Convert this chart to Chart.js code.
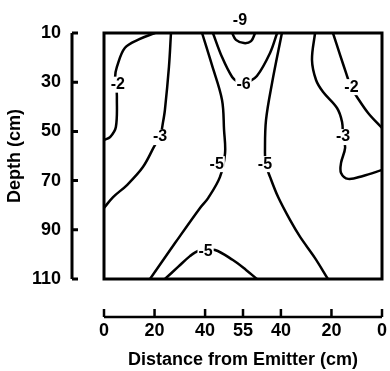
<!DOCTYPE html>
<html>
<head>
<meta charset="utf-8">
<script src="https://cdn.jsdelivr.net/npm/chart.js@4"></script>
<style>
  html, body { margin: 0; padding: 0; background: #fff; }
  #wrap { width: 390px; height: 371px; }
</style>
</head>
<body>
<div id="wrap"><canvas id="contourChart" width="390" height="371"></canvas></div>
<script>
"use strict"
//Axeldata
const xTicks = [0, 20, 40, 55, 70, 90, 110];
const xTickLabels = ['0', '20', '40', '55', '40', '20', '0'];
const yTicks = [10, 30, 50, 70, 90, 110];

//Konturlinjer [avstand, djup]
const leftM2 = [[20.2,10],[14,12.5],[8.3,16],[5.1,23.8],[4.4,27.9],[4.9,32],[5.1,36],[4.7,48.2],[2.4,52.3],[0,53.5]];
const leftM3 = [[26.5,10],[25.7,23.8],[24.1,41.3],[23.3,46.6],[22.2,52.3],[20.2,55.5],[15.4,64.5],[9.1,71.8],[3.6,76.7],[0,81.1]];
const leftM5 = [[38.8,10],[42.7,23],[46.7,37.2],[47.5,49.4],[47.9,58.8],[45.9,68.5],[41.2,77.1],[38,81.1],[28.1,95.4],[18.2,110]];
const rightM5 = [[70.4,10],[66.5,30.3],[64.1,45.4],[63.7,57.6],[64,63.3],[65.7,68.5],[68.9,76.7],[73.6,86],[77.6,92.9],[83.5,101.5],[88.6,110]];
const topM6 = [[43.1,10],[46.7,19.8],[50.7,27.9],[53,29.9],[55,31.1],[57,30],[60.5,27.5],[65.7,18.1],[68.5,10]];
const topM9 = [[50.7,10],[52.2,12.8],[55.4,14.1],[58.2,13.3],[59.8,10]];
const rightM2 = [[90.6,10],[93.4,18.9],[95.8,26.3],[97.7,32],[100.1,36],[104.5,42.5],[110,48.6]];
const rightM3 = [[83.5,10],[82.3,21],[83.9,29.1],[86.7,34],[92.2,40.5],[94.2,46.2],[94.6,52.3],[95.4,56.7],[93.8,62.8],[93.8,66.9],[96.6,69.3],[102.5,68.1],[110,65.7]];
const bottomM5 = [[24.1,110],[29.3,105.1],[34,100.7],[37.2,98.6],[40,98.8],[43.9,98.2],[51,102.3],[56.2,106.3],[60.5,110]];

//Etiketter på linjerna
const labelText = ['-2', '-3', '-5', '-5', '-6', '-9', '-2', '-3', '-5'];
const labelX = [5.5, 22.2, 44.6, 63.7, 55.2, 53.8, 97.9, 94.6, 40.2];
const labelY = [31, 52.3, 63.3, 63.3, 31.1, 5.1, 32, 52.3, 99];

const contours = [leftM2, leftM3, leftM5, rightM5, topM6, topM9, rightM2, rightM3, bottomM5];

const fontFam = "'Liberation Sans', Arial, sans-serif";

//Ram, förskjutna axlar och etiketter
const framePlugin = {
    id: 'frame',
    afterDatasetsDraw(chart) {
        const ctx = chart.ctx;
        const a = chart.chartArea;
        const xs = chart.scales.x;
        const ys = chart.scales.y;
        ctx.save();
        ctx.strokeStyle = '#000';
        ctx.lineWidth = 3;
        ctx.strokeRect(a.left, a.top, a.right - a.left, a.bottom - a.top);

        //y-axel
        const yLineX = a.left - 32;
        ctx.beginPath();
        ctx.moveTo(yLineX, ys.getPixelForValue(10));
        ctx.lineTo(yLineX, ys.getPixelForValue(110));
        yTicks.forEach(v => {
            const py = ys.getPixelForValue(v);
            ctx.moveTo(yLineX, py);
            ctx.lineTo(yLineX + 6, py);
        });
        ctx.stroke();

        //x-axel
        const xLineY = a.bottom + 38;
        ctx.lineWidth = 2.5;
        ctx.beginPath();
        ctx.moveTo(xs.getPixelForValue(0), xLineY);
        ctx.lineTo(xs.getPixelForValue(110), xLineY);
        xTicks.forEach(v => {
            const px = xs.getPixelForValue(v);
            ctx.moveTo(px, xLineY);
            ctx.lineTo(px, xLineY - 8);
        });
        ctx.stroke();

        //konturetiketter
        ctx.font = 'bold 16px ' + fontFam;
        ctx.textAlign = 'center';
        ctx.textBaseline = 'middle';
        labelText.forEach((t, i) => {
            const px = xs.getPixelForValue(labelX[i]);
            const py = ys.getPixelForValue(labelY[i]);
            const w = ctx.measureText(t).width;
            if (labelY[i] >= 10) {
                ctx.fillStyle = '#fff';
                ctx.fillRect(px - w / 2 - 1, py - 8, w + 2, 16);
            }
            ctx.fillStyle = '#000';
            ctx.fillText(t, px, py);
        });
        ctx.restore();
    }
};

//nollställ den extra kantutfyllnad som tick-padding ger
function noSidePad(scale) {
    scale.paddingTop = 0;
    scale.paddingBottom = 0;
    scale.paddingLeft = 0;
    scale.paddingRight = 0;
}

new Chart(document.getElementById('contourChart'), {
    type: 'scatter',
    data: {
        datasets: contours.map(c => ({
            data: c.map(p => ({ x: p[0], y: p[1] })),
            showLine: true,
            borderColor: '#000',
            borderWidth: 2.5,
            pointRadius: 0,
            tension: 0.35,
            fill: false
        }))
    },
    options: {
        responsive: false,
        animation: false,
        devicePixelRatio: 1,
        layout: { padding: { top: 33, right: 8, left: 0, bottom: 0 } },
        plugins: { legend: { display: false }, tooltip: { enabled: false } },
        scales: {
            x: {
                type: 'linear',
                min: 0,
                max: 110,
                afterBuildTicks: scale => { scale.ticks = xTicks.map(v => ({ value: v })); },
                afterFit: scale => { scale.height = 92; noSidePad(scale); },
                grid: { display: false, drawTicks: false },
                border: { display: false },
                ticks: {
                    padding: 41,
                    color: '#000',
                    font: { family: fontFam, size: 18, weight: 'bold' },
                    callback: (v, i) => xTickLabels[i]
                },
                title: {
                    display: true,
                    text: 'Distance from Emitter (cm)',
                    color: '#000',
                    font: { family: fontFam, size: 18, weight: 'bold' },
                    padding: { top: 0, bottom: 0 }
                }
            },
            y: {
                type: 'linear',
                reverse: true,
                min: 10,
                max: 110,
                afterBuildTicks: scale => { scale.ticks = yTicks.map(v => ({ value: v })); },
                afterFit: scale => { scale.width = 104; noSidePad(scale); },
                grid: { display: false, drawTicks: false },
                border: { display: false },
                ticks: {
                    padding: 43,
                    color: '#000',
                    font: { family: fontFam, size: 18, weight: 'bold' }
                },
                title: {
                    display: true,
                    text: 'Depth (cm)',
                    color: '#000',
                    font: { family: fontFam, size: 18, weight: 'bold' },
                    padding: { top: 4, bottom: 0 }
                }
            }
        }
    },
    plugins: [framePlugin]
});
</script>
</body>
</html>
